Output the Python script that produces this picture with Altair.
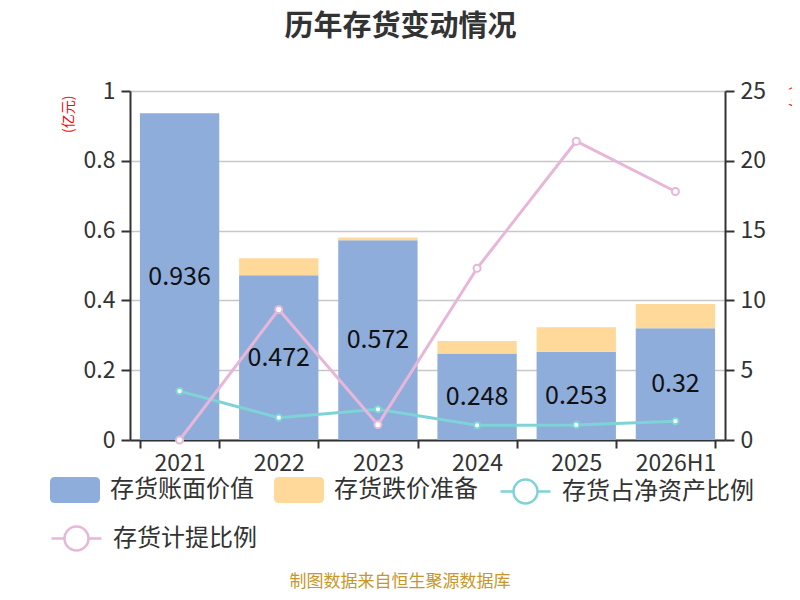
import altair as alt
import pandas as pd

# ---- data ----
years = ["2021", "2022", "2023", "2024", "2025", "2026H1"]
book_value = [0.936, 0.472, 0.572, 0.248, 0.253, 0.32]      # 存货账面价值 (亿元)
impairment = [0.0, 0.049, 0.008, 0.036, 0.070, 0.070]       # 存货跌价准备 (亿元)
ratio_net_assets = [3.5, 1.6, 2.2, 1.05, 1.08, 1.35]        # 存货占净资产比例 (%)
provision_ratio = [0.0, 9.35, 1.1, 12.3, 21.4, 17.8]        # 存货计提比例 (%)

s_book = "存货账面价值"
s_imp = "存货跌价准备"
s_ratio = "存货占净资产比例"
s_prov = "存货计提比例"
title_text = "历年存货变动情况"
source_text = "制图数据来自恒生聚源数据库"

BLUE = "#8EADDB"
YELLOW = "#FFD99A"
TEAL = "#7ED3D6"
PINK = "#E6B7D9"
DARK = "#333333"
FONT = "Noto Sans CJK SC"

bars_df = pd.DataFrame({
    "year": years * 2,
    "series": [s_book] * len(years) + [s_imp] * len(years),
    "idx": [0] * len(years) + [1] * len(years),
    "value": book_value + impairment,
})
wide_df = pd.DataFrame({
    "year": years,
    "book": book_value,
    "ratio": ratio_net_assets,
    "prov": provision_ratio,
})

RECT_PATH = ("M-0.8,-0.52 L0.8,-0.52 Q1,-0.52 1,-0.32 L1,0.32 Q1,0.52 0.8,0.52 "
             "L-0.8,0.52 Q-1,0.52 -1,0.32 L-1,-0.32 Q-1,-0.52 -0.8,-0.52 Z")
LINE_PATH = ("M-1,0 L-0.48,0 M0.48,0 L1,0 M-0.48,0 A0.48,0.48 0 1,0 0.48,0 "
             "A0.48,0.48 0 1,0 -0.48,0 Z")

def legend(x, y, sym, stroke_w, fill_col=None, **kw):
    args = dict(
        title=None, orient="none", legendX=x, legendY=y, direction="horizontal",
        symbolType=sym, symbolSize=2500, symbolStrokeWidth=stroke_w,
        labelFontSize=24, labelColor=DARK, labelOffset=10, labelLimit=400,
        labelFont=FONT, padding=0, columnPadding=20, symbolOpacity=1,
    )
    if fill_col is not None:
        args["symbolFillColor"] = fill_col
    args.update(kw)
    return alt.Legend(**args)

x_enc = alt.X(
    "year:N", sort=years, title=None,
    scale=alt.Scale(paddingInner=0.2, paddingOuter=0.1),
    axis=alt.Axis(labelAngle=0, labelFontSize=23, labelColor=DARK, labelPadding=4,
                  tickBand="extent", tickSize=8, tickColor=DARK, tickWidth=2,
                  domainColor=DARK, domainWidth=2, grid=False),
)

y_left_scale = alt.Scale(domain=[0, 1], nice=False)

bars = alt.Chart(bars_df).mark_bar().encode(
    x=x_enc,
    y=alt.Y("value:Q", stack="zero", scale=y_left_scale,
            axis=alt.Axis(values=[0, 0.2, 0.4, 0.6, 0.8, 1], format="~g",
                          labelFontSize=23, labelColor=DARK, labelPadding=6,
                          tickSize=9, tickColor=DARK, tickWidth=2,
                          domainColor=DARK, domainWidth=2,
                          gridColor="#C8C8C8", gridWidth=1.5,
                          title="(亿元)", titleColor="#FF0000", titleFontSize=14,
                          titleFontWeight="normal", titleAngle=270, titleX=-62, titleY=4,
                          titleAlign="right", titleBaseline="middle")),
    fill=alt.Fill("series:N", scale=alt.Scale(domain=[s_book, s_imp], range=[BLUE, YELLOW]),
                  legend=legend(-80, 374, RECT_PATH, 0)),
    order=alt.Order("idx:Q", sort="ascending"),
)

labels = alt.Chart(wide_df).transform_calculate(mid="datum.book / 2").mark_text(
    fontSize=25, color="#111111", baseline="middle", align="center"
).encode(
    x=alt.X("year:N", sort=years),
    y=alt.Y("mid:Q", scale=y_left_scale),
    text=alt.Text("book:Q", format="~g"),
)

left = alt.layer(bars, labels)

y_right_scale = alt.Scale(domain=[0, 25], nice=False)
y_right_axis = alt.Axis(orient="right", values=[0, 5, 10, 15, 20, 25], grid=False,
                        labelFontSize=23, labelColor=DARK, labelPadding=6,
                        tickSize=9, tickColor=DARK, tickWidth=2,
                        domainColor=DARK, domainWidth=2,
                        title="(%)", titleColor="#FF0000", titleFontSize=14,
                        titleFontWeight="normal", titleAngle=90, titleX=70, titleY=-6,
                        titleAlign="left", titleBaseline="middle")

teal_line = alt.Chart(wide_df).transform_calculate(s=f"'{s_ratio}'").mark_line(strokeWidth=3).encode(
    x=alt.X("year:N", sort=years),
    y=alt.Y("ratio:Q", scale=y_right_scale, axis=y_right_axis),
    stroke=alt.Stroke("s:N", scale=alt.Scale(domain=[s_ratio], range=[TEAL]),
                      legend=legend(369, 374, LINE_PATH, 2.5, "white")),
)
teal_pts = alt.Chart(wide_df).mark_point(filled=True, fill="white", stroke=TEAL,
                                         strokeWidth=2, size=40, opacity=1).encode(
    x=alt.X("year:N", sort=years),
    y=alt.Y("ratio:Q", scale=y_right_scale),
)
pink_line = alt.Chart(wide_df).transform_calculate(s=f"'{s_prov}'").mark_line(strokeWidth=3).encode(
    x=alt.X("year:N", sort=years),
    y=alt.Y("prov:Q", scale=y_right_scale),
    color=alt.Color("s:N", scale=alt.Scale(domain=[s_prov], range=[PINK]),
                    legend=legend(-80, 421, LINE_PATH, 2.5, "white")),
)
pink_pts = alt.Chart(wide_df).mark_point(filled=True, fill="white", stroke=PINK,
                                         strokeWidth=2, size=50, opacity=1).encode(
    x=alt.X("year:N", sort=years),
    y=alt.Y("prov:Q", scale=y_right_scale),
)

right = alt.layer(teal_line, teal_pts, pink_line, pink_pts)

source = alt.Chart(pd.DataFrame({"t": [source_text]})).mark_text(
    fontSize=17, color="#C8962A", align="center", baseline="middle"
).encode(x=alt.value(270), y=alt.value(491), text="t:N")

chart = alt.layer(left, right, source).resolve_scale(y="independent").properties(
    width=595, height=349,
    autosize=alt.AutoSizeParams(type="none"),
    padding={"left": 122, "top": 83, "right": 67, "bottom": 152},
    title=alt.Title(title_text, fontSize=29, fontWeight="bold", color=DARK,
                    anchor="middle", frame="group", dx=-27, offset=38),
).configure(font=FONT).configure_view(stroke=None)

chart.save("out.html", embed_options={"renderer": "svg", "actions": False})
